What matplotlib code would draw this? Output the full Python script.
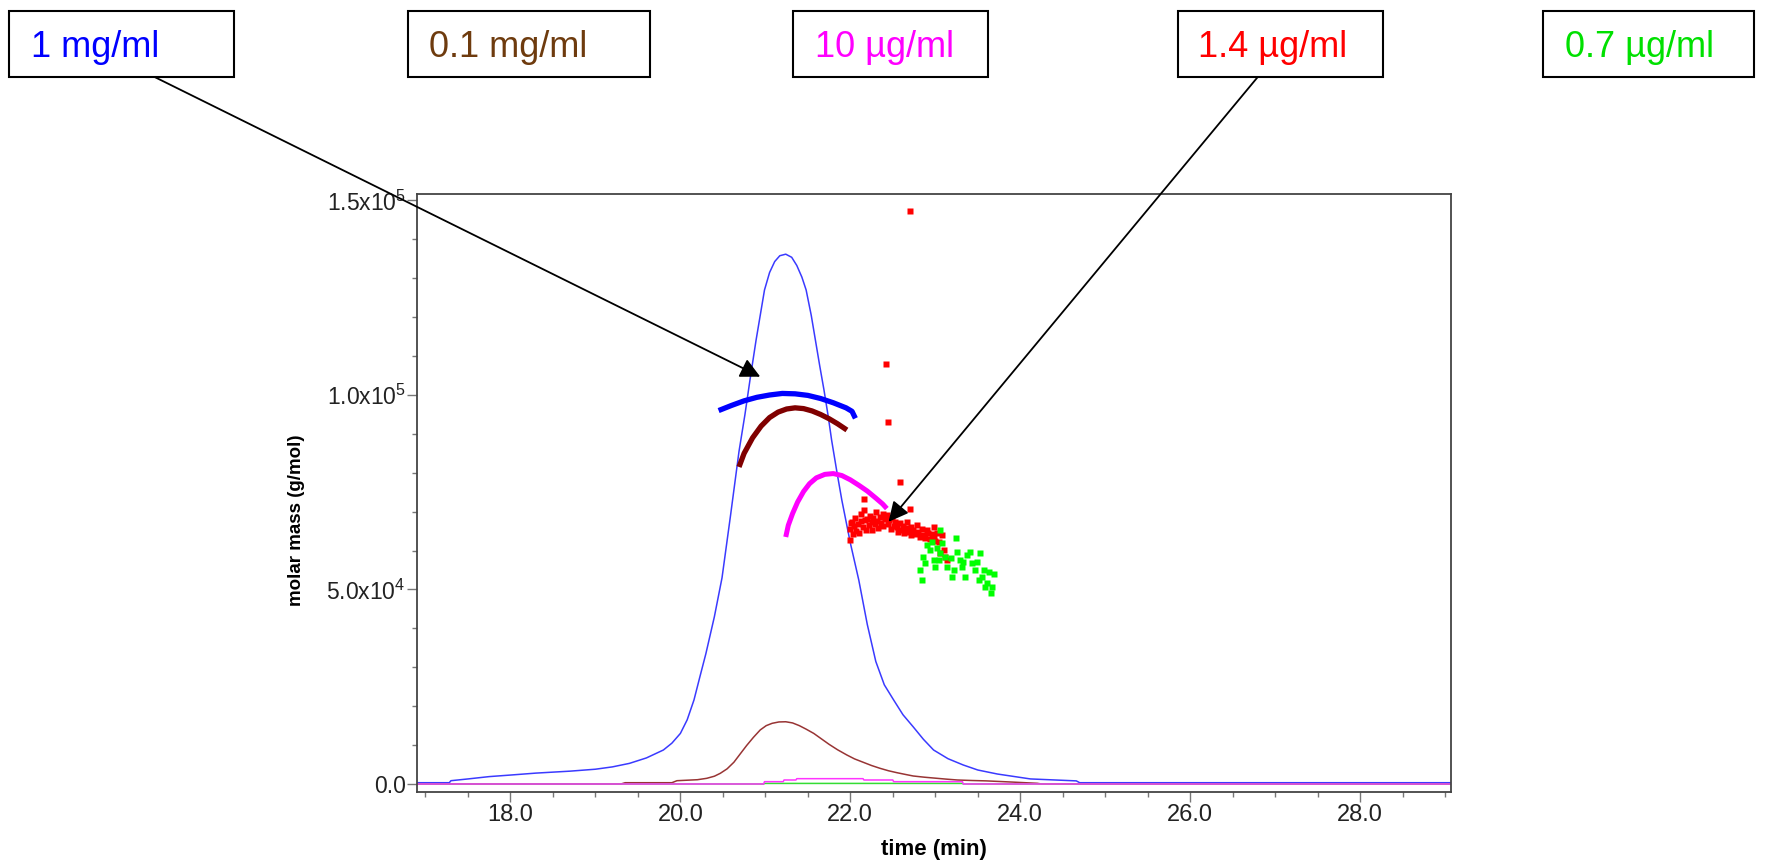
import math
import matplotlib
matplotlib.use("Agg")
import matplotlib.pyplot as plt
from matplotlib.patches import Rectangle
from matplotlib.ticker import FixedLocator, MultipleLocator, FuncFormatter

plt.rcParams["font.family"] = ["Liberation Sans", "DejaVu Sans"]
plt.rcParams["mathtext.fontset"] = "custom"
plt.rcParams["mathtext.rm"] = "Liberation Sans"
plt.rcParams["mathtext.it"] = "Liberation Sans:italic"
plt.rcParams["mathtext.bf"] = "Liberation Sans:bold"

# ---------------- concentration series ----------------
conc_labels = ["1 mg/ml", "0.1 mg/ml", "10 µg/ml", "1.4 µg/ml", "0.7 µg/ml"]
label_colors = ["#0000FF", "#6E3B0E", "#FF00FF", "#FF0000", "#00E000"]

# detector traces (time in min, scaled signal)
blue_trace_t = [16.90, 17.28, 17.30, 17.50, 17.75, 18.00, 18.30, 18.70, 19.00, 19.20,
                19.40, 19.60, 19.80, 19.90, 20.00, 20.08, 20.16, 20.23, 20.30, 20.40,
                20.49, 20.59, 20.69, 20.76, 20.82, 20.89, 20.99, 21.05, 21.11, 21.17,
                21.24, 21.31, 21.37, 21.43, 21.48, 21.54, 21.59, 21.64, 21.69, 21.74,
                21.78, 21.84, 21.90, 22.00, 22.10, 22.20, 22.30, 22.40, 22.51, 22.62,
                22.74, 22.86, 22.98, 23.15, 23.33, 23.50, 23.73, 24.12, 24.66, 24.70,
                29.10]
blue_trace_v = [330, 330, 850, 1300, 1900, 2300, 2800, 3300, 3800, 4400,
                5300, 6700, 8740, 10500, 13000, 16500, 21600, 27600, 33500, 43000,
                53000, 69000, 85500, 95000, 104000, 114000, 127000, 131500, 134300, 135800,
                136200, 135400, 133300, 130300, 127000, 120500, 114000, 107500, 101300, 94500,
                88400, 80500, 73000, 62000, 52400, 41000, 31500, 25500, 21600, 17800,
                14700, 11500, 8740, 6500, 4880, 3600, 2570, 1300, 800, 330,
                330]

brown_trace_t = [16.90, 19.30, 19.35, 19.90, 19.96, 20.20, 20.31, 20.40, 20.47, 20.55,
                 20.63, 20.71, 20.78, 20.86, 20.94, 21.01, 21.08, 21.16, 21.24, 21.32,
                 21.40, 21.48, 21.57, 21.66, 21.75, 21.85, 21.96, 22.05, 22.15, 22.25,
                 22.35, 22.45, 22.55, 22.65, 22.74, 22.87, 23.00, 23.13, 23.26, 23.43,
                 23.60, 23.90, 24.20, 24.25, 29.10]
brown_trace_v = [0, 0, 330, 330, 850, 1100, 1460, 2000, 2750, 3900,
                 5600, 7900, 9900, 12000, 13900, 15000, 15600, 15950, 16000, 15700,
                 15000, 14100, 13000, 11600, 10200, 8800, 7450, 6450, 5600, 4750,
                 4030, 3400, 2900, 2450, 2060, 1750, 1500, 1250, 1030, 900,
                 800, 500, 180, 0, 0]

magenta_trace_t = [16.90, 20.98, 20.99, 21.21, 21.22, 21.36, 21.37, 22.15, 22.16, 22.50,
                   22.51, 23.32, 23.33, 29.10]
magenta_trace_v = [0, 0, 600, 600, 1030, 1030, 1370, 1370, 1030, 1030,
                   600, 600, 0, 0]

green_trace_t = [16.90, 20.98, 20.99, 23.32, 23.33, 29.10]
green_trace_v = [0, 0, 150, 150, 0, 0]

# molar mass (g/mol) versus elution time
blue_mm_t = [20.45, 20.60, 20.75, 20.90, 21.05, 21.20, 21.35, 21.50, 21.65, 21.80,
             21.95, 22.02, 22.06]
blue_mm_m = [96000, 97300, 98500, 99400, 100000, 100400, 100300, 99900, 99100, 98000,
             96700, 95800, 94000]

brown_mm_t = [20.69, 20.75, 20.85, 20.95, 21.05, 21.15, 21.25, 21.35, 21.45, 21.55,
              21.65, 21.75, 21.85, 21.96]
brown_mm_m = [81500, 85000, 89000, 92000, 94200, 95600, 96400, 96700, 96500, 95900,
              95000, 93900, 92600, 91000]

magenta_mm_t = [21.24, 21.27, 21.32, 21.38, 21.45, 21.52, 21.60, 21.70, 21.80, 21.90,
                22.00, 22.10, 22.20, 22.30, 22.38, 22.43]
magenta_mm_m = [63500, 66500, 69500, 72500, 75200, 77200, 78700, 79600, 79800, 79300,
                78200, 76800, 75300, 73500, 72000, 70800]

red_mm_t = [22.00, 22.00, 22.01, 22.03, 22.04, 22.06, 22.07, 22.09, 22.10, 22.12,
            22.13, 22.15, 22.16, 22.17, 22.19, 22.20, 22.22, 22.23, 22.25, 22.26,
            22.27, 22.29, 22.30, 22.32, 22.33, 22.35, 22.36, 22.38, 22.39, 22.41,
            22.43, 22.44, 22.46, 22.48, 22.49, 22.51, 22.53, 22.55, 22.56, 22.58,
            22.60, 22.62, 22.63, 22.65, 22.67, 22.69, 22.71, 22.72, 22.74, 22.76,
            22.78, 22.80, 22.82, 22.84, 22.86, 22.88, 22.90, 22.92, 22.94, 22.96,
            22.98, 22.98, 23.00, 23.02, 23.04, 23.06, 23.08, 23.10, 23.12, 23.14,
            22.70, 22.42, 22.44, 22.59, 22.16, 22.70, 22.02]
red_mm_m = [62700, 65500, 67200, 64200, 66300, 68500, 65000, 66800, 64500, 67500,
            69300, 66000, 70400, 67900, 65400, 68200, 66600, 69000, 67300, 65200,
            68300, 66900, 70000, 67600, 65800, 68700, 67000, 69500, 66300, 68200,
            69200, 66800, 67900, 65600, 68500, 66400, 67400, 66100, 64800, 67000,
            65300, 66400, 64400, 65800, 67300, 64900, 66100, 63900, 65400, 64300,
            66600, 64800, 63600, 65600, 64100, 63200, 65300, 64500, 63000, 64200,
            66100, 63600, 62500, 64400, 62300, 59300, 64000, 60200, 58400, 57600,
            147400, 108000, 93000, 77600, 73200, 70700, 67300]

green_mm_t = [22.82, 22.84, 22.86, 22.90, 22.94, 22.98, 23.02, 23.04, 23.06, 23.08,
              23.12, 23.14, 23.18, 23.22, 23.24, 23.25, 23.29, 23.31, 23.35, 23.37,
              23.41, 23.43, 23.47, 23.49, 23.53, 23.55, 23.57, 23.61, 23.63, 23.65,
              23.67, 23.69, 23.06, 22.88, 22.96, 23.00, 23.20, 23.33, 23.51, 23.59]
green_mm_m = [55000, 52400, 58400, 61400, 60200, 57600, 60600, 57600, 65300, 61900,
              58400, 55900, 58000, 55000, 63200, 59700, 57600, 55900, 53300, 58900,
              59700, 56700, 55000, 57100, 59300, 53300, 55000, 51600, 54600, 49000,
              50700, 54100, 59300, 56700, 62300, 55900, 53300, 57100, 52400, 50700]

x_major = [18, 20, 22, 24, 26, 28]
y_major = [0, 50000, 100000, 150000]

# ---------------- figure ----------------
W, H = 1769, 861
fig = plt.figure(figsize=(W / 100, H / 100), dpi=100)
ax = fig.add_axes([417 / W, (H - 792) / H, (1451 - 417) / W, (792 - 194) / H])

ax.plot(blue_trace_t, blue_trace_v, color="#3A3AFF", lw=1.1, zorder=2)
ax.plot(brown_trace_t, brown_trace_v, color="#983434", lw=1.1, zorder=2)
ax.plot(green_trace_t, green_trace_v, color="#33DD33", lw=1.1, zorder=2)
ax.plot(magenta_trace_t, magenta_trace_v, color="#FF33FF", lw=1.1, zorder=2)

ax.plot(blue_mm_t, blue_mm_m, color="#0000FF", lw=3.8, solid_capstyle="butt", zorder=3)
ax.plot(brown_mm_t, brown_mm_m, color="#800000", lw=3.8, solid_capstyle="butt", zorder=3)
ax.plot(magenta_mm_t, magenta_mm_m, color="#FF00FF", lw=3.6, solid_capstyle="butt", zorder=3)
ax.plot(red_mm_t, red_mm_m, "s", color="#FF0000", ms=4.0, mec="none", zorder=4)
ax.plot(green_mm_t, green_mm_m, "s", color="#00FF00", ms=4.2, mec="none", zorder=4)

ax.set_xlim(16.9, 29.07)
ax.set_ylim(-2057, 151670)

ax.xaxis.set_major_locator(FixedLocator(x_major))
ax.xaxis.set_minor_locator(MultipleLocator(0.5))
ax.xaxis.set_major_formatter(FuncFormatter(lambda v, p: f"{v:.1f}"))
ax.yaxis.set_major_locator(FixedLocator(y_major))
ax.yaxis.set_minor_locator(MultipleLocator(10000))


def sci_label(v, pos):
    if v == 0:
        return "0.0"
    e = int(math.floor(math.log10(abs(v))))
    return r"$\mathregular{%.1fx10^{%d}}$" % (v / 10 ** e, e)


ax.yaxis.set_major_formatter(FuncFormatter(sci_label))

for s in ax.spines.values():
    s.set_color("#444444")
    s.set_linewidth(1.3)
ax.tick_params(axis="both", which="major", direction="out", length=7, width=1,
               color="#777777", labelcolor="#222222")
ax.tick_params(axis="both", which="minor", direction="out", length=3.6, width=1,
               color="#777777")
ax.tick_params(axis="x", which="major", labelsize=17, pad=1.5)
ax.tick_params(axis="y", which="major", labelsize=16.5, pad=1)

ax.set_xlabel("time (min)", fontsize=16, fontweight="bold", va="top")
ax.xaxis.set_label_coords(0.5, -0.078)
ax.set_ylabel("molar mass (g/mol)", fontsize=13.5, fontweight="bold")
ax.yaxis.set_label_coords(-0.108, 0.455)

# ---------------- concentration boxes ----------------
box_left = [9, 408, 793, 1178, 1543]
box_right = [233.5, 650, 988, 1383, 1754]
text_left = [31, 428.7, 814.6, 1198, 1565]
box_top, box_bottom = 11.3, 76.7

for lab, col, bl, br, tl in zip(conc_labels, label_colors, box_left, box_right, text_left):
    fig.add_artist(Rectangle((bl / W, (H - box_bottom) / H), (br - bl) / W,
                             (box_bottom - box_top) / H, transform=fig.transFigure,
                             facecolor="white", edgecolor="black", lw=1.5, zorder=5))
    fig.text(tl / W, (H - 57.3) / H, lab, color=col, fontsize=26, va="baseline",
             ha="left", zorder=6)

# arrows from the 1 mg/ml and 1.4 µg/ml boxes into the plot
arrow_style = dict(arrowstyle="-|>,head_length=0.6,head_width=0.3", color="black",
                   lw=1.3, mutation_scale=20, shrinkA=0, shrinkB=0)
ax.annotate("", xy=(20.94, 104700), xycoords="data",
            xytext=(154, H - 76.7), textcoords="figure pixels",
            arrowprops=arrow_style, annotation_clip=False, zorder=10)
ax.annotate("", xy=(22.45, 67400), xycoords="data",
            xytext=(1258, H - 76.7), textcoords="figure pixels",
            arrowprops=arrow_style, annotation_clip=False, zorder=10)

fig.savefig("out.png", dpi=100, facecolor="white")
